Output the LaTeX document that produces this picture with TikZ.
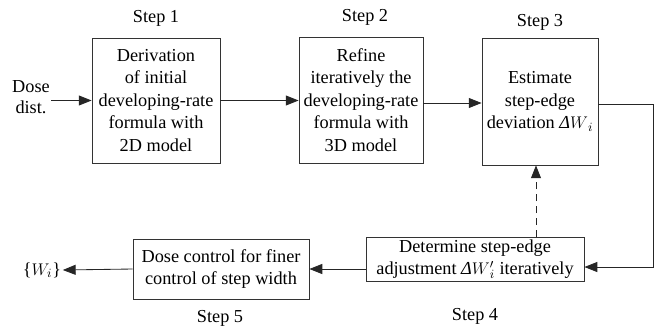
\documentclass[tikz,border=0pt]{standalone}
\usepackage{fontspec}
\setmainfont{Liberation Serif}
\usetikzlibrary{arrows.meta, positioning, calc}
\newcommand{\dW}{\textit{Δ}$W$}
\tikzset{
    stepbox/.style={
        rectangle,
        draw=black!80,
        line width=0.6pt,
        align=center,
        inner sep=2pt,
        font=\fontsize{13}{16}\selectfont
    },
    widebox/.style={stepbox, inner sep=1pt, font=\fontsize{13}{15.5}\selectfont},
    steplabel/.style={font=\fontsize{13}{15}\selectfont},
    flowarrow/.style={-{Triangle[length=3.2mm, width=2.5mm]}, line width=0.6pt, draw=black!85},
    feedarrow/.style={flowarrow, dashed, dash pattern=on 5pt off 3.5pt}
}

\begin{document}
\begin{tikzpicture}[x=0.025cm, y=-0.025cm]
        \useasboundingbox (0,0) rectangle (657,325);

        \node[stepbox, minimum width=3.2cm, minimum height=3.125cm] (derive) at (156,100.5) {Derivation\\
        of initial\\
        developing-rate\\
        formula with\\
        2D model};

        \node[stepbox, minimum width=3.1cm, minimum height=3.15cm] (refine) at (361,100) {Refine\\
        iteratively the\\
        developing-rate\\
        formula with\\
        3D model};

        \node[stepbox, minimum width=2.9cm, minimum height=3.175cm] (estimate) at (540,101.5) {Estimate\\
        step-edge\\
        deviation \dW$_i$};

        \node[widebox, minimum width=5.45cm, minimum height=1.1cm] (adjust) at (475,259.5) {Determine step-edge\\
        adjustment \dW$'_i$ iteratively};

        \node[widebox, minimum width=4.4cm, minimum height=1.5cm] (dosectl) at (221,269) {Dose control for finer\\
        control of step width};

        % step labels
        \node[steplabel] (s1) at (156,18) {Step 1};
        \node[steplabel] (s2) at (365,17) {Step 2};
        \node[steplabel] (s3) at (540,22) {Step 3};
        \node[steplabel] (s4) at (475,316) {Step 4};
        \node[steplabel] (s5) at (220,318) {Step 5};

        % input and output
        \node[steplabel, align=center, inner sep=1pt] (dose) at (31,97) {Dose\\dist.};
        \node[steplabel, inner sep=1pt] (out) at (42,270) {\{$W_i$\}};

        \coordinate (corner1) at (653,104);
        \coordinate (corner2) at (653,267);

        \draw[flowarrow] (dose.east |- derive) -- (derive.west);
        \draw[flowarrow] (derive.east) -- (derive.east -| refine.west);
        \draw[flowarrow] (refine.east |- 0,103) -- (estimate.west |- 0,103);
        \draw[flowarrow] (estimate.east |- corner1) -- (corner1) -- (corner2) -- (adjust.east |- corner2);
        \draw[feedarrow] (adjust.north -| 536,0) -- (estimate.south -| 536,0);
        \draw[flowarrow] (adjust.west |- dosectl) -- (dosectl.east);
        \draw[flowarrow] (dosectl.west) -- (out.east);
    \end{tikzpicture}
\end{document}
